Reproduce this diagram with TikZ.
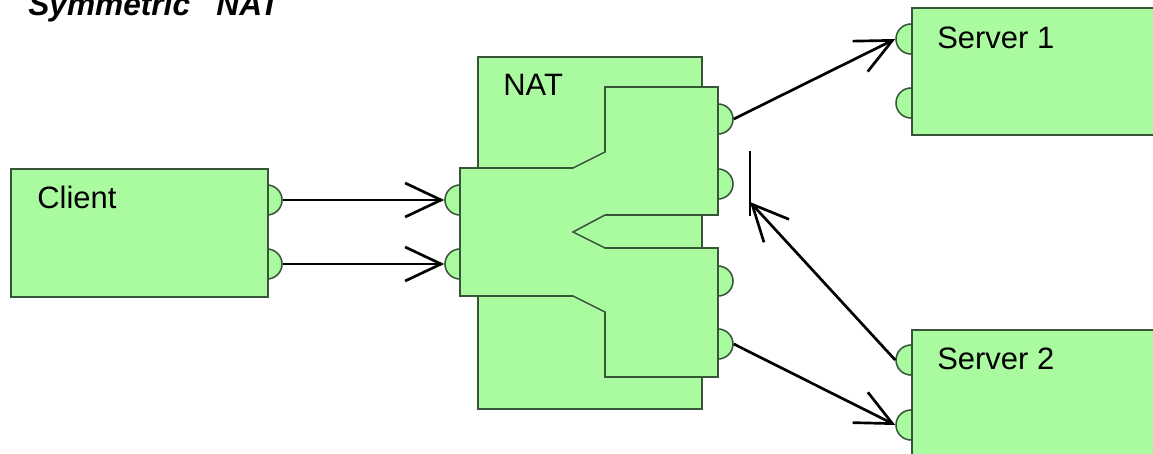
\documentclass[tikz,border=0pt]{standalone}
\usepackage{fontspec}
\setmainfont{Liberation Sans}
\usepackage{xcolor}
\usetikzlibrary{arrows.meta}

\definecolor{boxgreen}{RGB}{170,250,160}
\definecolor{edgegreen}{RGB}{55,85,55}

\begin{document}
\begin{tikzpicture}[x=0.025cm, y=-0.025cm, >={Straight Barb[length=0.9cm, width=0.85cm]}, line width=1.9pt]
    \tikzstyle{block}=[draw=edgegreen, fill=boxgreen, line width=1.1pt, rectangle, inner sep=0pt, anchor=north west]
    \tikzstyle{port}=[draw=edgegreen, fill=boxgreen, line width=1.1pt, circle, inner sep=0pt, minimum size=0.75cm]
    \tikzstyle{lbl}=[anchor=base west, inner sep=0pt, font=\fontsize{22}{26}\selectfont]
    \useasboundingbox (0, 0) rectangle (1153, 454);

    \node [lbl, font=\fontsize{22.5}{26}\selectfont\bfseries\itshape] (title) at (27, 15) {Symmetric\ \ \ NAT};

    % client
    \node [port] (cP1) at (267, 200) {};
    \node [port] (cP2) at (267, 264) {};
    \node [block, minimum width=6.425cm, minimum height=3.2cm] (client) at (10, 168) {};
    \node [lbl] (clientlbl) at (36, 208) {Client};

    % nat
    \node [block, minimum width=5.6cm, minimum height=8.8cm] (nat) at (477, 56) {};
    \node [port] (nL1) at (460, 200) {};
    \node [port] (nL2) at (460, 264) {};
    \node [port] (nR1) at (718, 119) {};
    \node [port] (nR2) at (718, 184) {};
    \node [port] (nR3) at (718, 281) {};
    \node [port] (nR4) at (718, 344) {};
    \draw [draw=edgegreen, fill=boxgreen, line width=1.1pt] (460, 168) -- (573, 168) -- (605, 152) -- (605, 87) -- (718, 87)
        -- (718, 215) -- (605, 215) -- (573, 232) -- (605, 248) -- (718, 248)
        -- (718, 377) -- (605, 377) -- (605, 312) -- (573, 296) -- (460, 296) -- cycle;
    \node [lbl] (natlbl) at (502, 95) {NAT};

    % servers
    \node [port] (s1P1) at (911, 39) {};
    \node [port] (s1P2) at (911, 103) {};
    \node [block, minimum width=6.425cm, minimum height=3.175cm] (server1) at (911, 7) {};
    \node [lbl] (s1lbl) at (936, 48) {Server 1};

    \node [port] (s2P1) at (911, 360) {};
    \node [port] (s2P2) at (911, 425) {};
    \node [block, minimum width=6.425cm, minimum height=3.175cm] (server2) at (911, 329) {};
    \node [lbl] (s2lbl) at (936, 369) {Server 2};

    % dropped packet
    \coordinate (blkT) at (750, 151);
    \coordinate (blkB) at (750, 216);
    \coordinate (blk) at (750, 202);
    \draw (blkT) -- (blkB);

    \draw [->] (cP1.east) -- (nL1.west);
    \draw [->] (cP2.east) -- (nL2.west);
    \draw [->] (nR1.east) -- (s1P1.west);
    \draw [->] (nR4.east) -- (s2P2.west);
    \draw [->] (s2P1.west) -- (blk);
\end{tikzpicture}
\end{document}
